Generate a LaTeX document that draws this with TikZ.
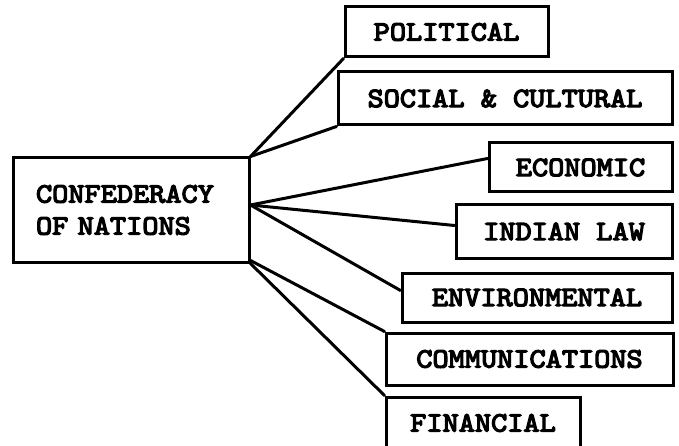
\documentclass[tikz,border=0pt]{standalone}
\usepackage{fontspec}
\usetikzlibrary{calc}
% heavy, slightly widened typewriter lettering for the box labels
\newfontfamily\typewriter{lmmono10-regular.otf}[FakeBold=4.5,FakeStretch=1.1]
\newcommand\labelfont{\typewriter\fontsize{28}{32}\selectfont}
\begin{document}
\begin{tikzpicture}[x=1pt,y=-1pt,
  box/.style={draw, line width=3pt, inner sep=0pt, font=\labelfont},
  link/.style={line width=3pt, line cap=round}]
\useasboundingbox (0,0) rectangle (679,446);
\clip (0,0) rectangle (679,446);

% central box
\node[box, minimum width=236pt, minimum height=104pt,
      text width=190pt, align=left] (conf) at (131,210)
      {CONFEDERACY\\OF NATIONS};

% branch boxes
\node[box, minimum width=203pt, minimum height=50pt] (pol) at (446.5,32)  {POLITICAL};
\node[box, minimum width=334pt, minimum height=53pt] (soc) at (505,98.5)  {SOCIAL \& CULTURAL};
\node[box, minimum width=183pt, minimum height=49pt] (eco) at (580.5,167.5) {ECONOMIC};
\node[box, minimum width=216pt, minimum height=53pt] (ind) at (564,231.5) {INDIAN LAW};
\node[box, minimum width=270pt, minimum height=49pt] (env) at (537,297.5) {ENVIRONMENTAL};
\node[box, minimum width=287pt, minimum height=52pt] (com) at (529.5,359) {COMMUNICATIONS};
\node[box, minimum width=194pt, minimum height=52pt] (fin) at (483,423)   {FINANCIAL};

% connection points on the central box
\coordinate (jmid) at ($(conf.east)+(0,-5)$);
\coordinate (jlow) at ($(conf.south east)+(0,-3)$);

% connectors
\draw[link] (conf.north east) -- (pol.south west);
\draw[link] (conf.north east) -- (soc.south west);
\draw[link] (jmid) -- ($(eco.west)+(0,-9)$);
\draw[link] (jmid) -- ($(ind.west)+(0,-6)$);
\draw[link] (jmid) -- ($(env.west)+(0,-7)$);
\draw[link] (jlow) -- (com.north west);
\draw[link] (conf.south east) -- (fin.north west);
\end{tikzpicture}
\end{document}
